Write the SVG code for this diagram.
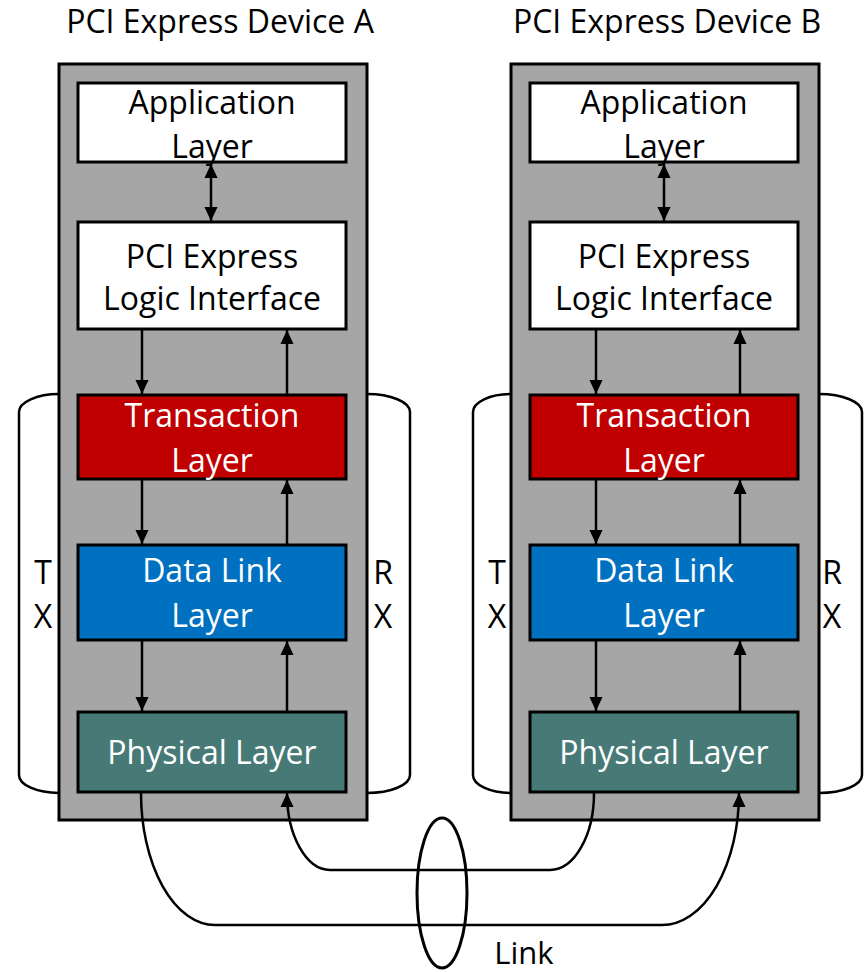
<svg xmlns="http://www.w3.org/2000/svg" width="868" height="972" viewBox="0 0 868 972">
<style>
text{font-family:"Open Sans","Liberation Sans",sans-serif;text-anchor:middle;}
.t{font-size:32px;fill:#000;}
.bt{font-size:32px;}
.dk{fill:#000;}
.wt{fill:#fff;}
.dev{fill:#A6A6A6;stroke:#000;stroke-width:3;}
.box{stroke:#000;stroke-width:3;}
.app{fill:#fff;}
.tl{fill:#C00000;}
.dl{fill:#0070C0;}
.pl{fill:#477A76;}
.br{fill:none;stroke:#000;stroke-width:2.5;}
.c{fill:none;stroke:#000;stroke-width:2.5;}
</style>
<defs>
<marker id="ah" markerUnits="userSpaceOnUse" markerWidth="14" markerHeight="15" viewBox="0 0 15 14" refX="15" refY="7" orient="auto-start-reverse">
<path d="M0,0 L15,7 L0,14 Z" fill="#000"/>
</marker>
</defs>
<rect width="868" height="972" fill="#fff"/>

<g id="deviceA">
<text class="t" x="220" y="33">PCI Express Device A</text>
<path class="br" d="M59,394 A40,18 0 0 0 19,412 L19,775 A40,18 0 0 0 59,793"/>
<path class="br" d="M367,394 A43,18 0 0 1 410,412 L410,775 A43,18 0 0 1 367,793"/>
<text class="t" x="43" y="584">T</text>
<text class="t" x="43" y="628">X</text>
<text class="t" x="383" y="584">R</text>
<text class="t" x="383" y="628">X</text>
<rect class="dev" x="59" y="64" width="308" height="756"/>
</g>
<g id="appA"><rect class="box app" x="78" y="83" width="268" height="79"/><text class="bt dk" x="212" y="114">Application</text><text class="bt dk" x="212" y="158">Layer</text></g>
<g id="pciA"><rect class="box app" x="78" y="222" width="268" height="107"/><text class="bt dk" x="212" y="268">PCI Express</text><text class="bt dk" x="212" y="310">Logic Interface</text></g>
<g id="transA"><rect class="box tl" x="78" y="395" width="268" height="84"/><text class="bt wt" x="212" y="427">Transaction</text><text class="bt wt" x="212" y="472">Layer</text></g>
<g id="dlA"><rect class="box dl" x="78" y="545" width="268" height="95"/><text class="bt wt" x="212" y="582">Data Link</text><text class="bt wt" x="212" y="627">Layer</text></g>
<g id="physA"><rect class="box pl" x="78" y="712" width="268" height="80"/><text class="bt wt" x="212" y="764">Physical Layer</text></g>

<g id="deviceB">
<text class="t" x="667" y="33">PCI Express Device B</text>
<path class="br" d="M511,394 A38,18 0 0 0 473,412 L473,775 A38,18 0 0 0 511,793"/>
<path class="br" d="M819,394 A43,18 0 0 1 862,412 L862,775 A43,18 0 0 1 819,793"/>
<text class="t" x="497" y="584">T</text>
<text class="t" x="497" y="628">X</text>
<text class="t" x="832" y="584">R</text>
<text class="t" x="832" y="628">X</text>
<rect class="dev" x="511" y="64" width="308" height="756"/>
</g>
<g id="appB"><rect class="box app" x="530" y="83" width="268" height="79"/><text class="bt dk" x="664" y="114">Application</text><text class="bt dk" x="664" y="158">Layer</text></g>
<g id="pciB"><rect class="box app" x="530" y="222" width="268" height="107"/><text class="bt dk" x="664" y="268">PCI Express</text><text class="bt dk" x="664" y="310">Logic Interface</text></g>
<g id="transB"><rect class="box tl" x="530" y="395" width="268" height="84"/><text class="bt wt" x="664" y="427">Transaction</text><text class="bt wt" x="664" y="472">Layer</text></g>
<g id="dlB"><rect class="box dl" x="530" y="545" width="268" height="95"/><text class="bt wt" x="664" y="582">Data Link</text><text class="bt wt" x="664" y="627">Layer</text></g>
<g id="physB"><rect class="box pl" x="530" y="712" width="268" height="80"/><text class="bt wt" x="664" y="764">Physical Layer</text></g>

<g id="link">
<ellipse cx="442" cy="893" rx="25" ry="75" fill="none" stroke="#000" stroke-width="3"/>
<text class="t" x="524" y="964" style="font-size:31px">Link</text>
</g>

<g id="connectors">
<path class="c" d="M211,164 L211,221" marker-start="url(#ah)" marker-end="url(#ah)"/>
<path class="c" d="M142,330 L142,394" marker-end="url(#ah)"/>
<path class="c" d="M287,394 L287,330" marker-end="url(#ah)"/>
<path class="c" d="M142,480 L142,544" marker-end="url(#ah)"/>
<path class="c" d="M287,544 L287,480" marker-end="url(#ah)"/>
<path class="c" d="M142,641 L142,711" marker-end="url(#ah)"/>
<path class="c" d="M287,711 L287,641" marker-end="url(#ah)"/>
<path class="c" d="M664,164 L664,221" marker-start="url(#ah)" marker-end="url(#ah)"/>
<path class="c" d="M596,330 L596,394" marker-end="url(#ah)"/>
<path class="c" d="M740,394 L740,330" marker-end="url(#ah)"/>
<path class="c" d="M596,480 L596,544" marker-end="url(#ah)"/>
<path class="c" d="M740,544 L740,480" marker-end="url(#ah)"/>
<path class="c" d="M596,641 L596,711" marker-end="url(#ah)"/>
<path class="c" d="M740,711 L740,641" marker-end="url(#ah)"/>
<path class="c" d="M141,793 A74,132 0 0 0 215,925 L662,925 A77,132 0 0 0 739,793" marker-end="url(#ah)"/>
<path class="c" d="M594,793 A44,77 0 0 1 550,870 L330,870 A43,77 0 0 1 287,793" marker-end="url(#ah)"/>
</g>
</svg>
